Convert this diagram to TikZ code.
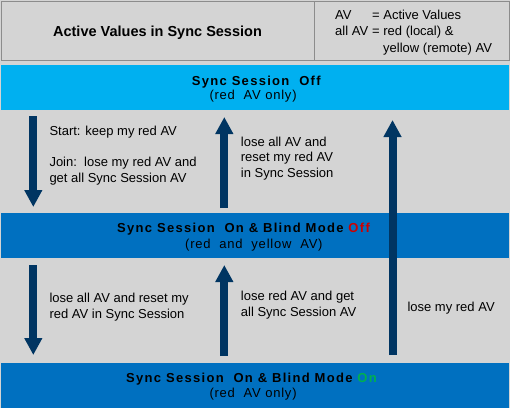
\documentclass[tikz,border=0pt]{standalone}
\usepackage{fontspec}
\setmainfont{Liberation Sans}
\newfontfamily\titlefont[LetterSpace=10]{Liberation Sans}
\newfontfamily\subfont[LetterSpace=6]{Liberation Sans}
\usetikzlibrary{arrows.meta}
\definecolor{bgc}{HTML}{D4D4D4}
\definecolor{hdrline}{HTML}{8C8C8C}
\definecolor{lightband}{HTML}{00B0F0}
\definecolor{darkband}{HTML}{0070C0}
\definecolor{navy}{HTML}{003562}
\definecolor{offred}{HTML}{CC0000}
\definecolor{ongreen}{HTML}{00B050}
\begin{document}
\begin{tikzpicture}[x=1pt,y=-1pt,
  hdrbox/.style={draw=hdrline, line width=1pt, fill=bgc, anchor=north west, inner sep=0pt, outer sep=0pt},
  band/.style={anchor=north west, inner sep=0pt, outer sep=0pt, minimum width=508pt},
  body/.style={anchor=base west, inner sep=0pt, font=\fontsize{13}{16}\selectfont},
  bandtitle/.style={anchor=base west, inner sep=0pt, font=\titlefont\fontsize{13}{16}\selectfont\bfseries},
  bandsub/.style={anchor=base west, inner sep=0pt, font=\subfont\fontsize{13}{16}\selectfont},
  bigarrow/.style={draw=navy, line width=8pt, -{Triangle[width=17pt,length=17pt]}}
]
\useasboundingbox (0,0) rectangle (510,408);
\fill[bgc] (0,0) rectangle (510,408);
% header
\node[hdrbox, minimum width=313pt, minimum height=59.5pt] (hdrtitle) at (1,1) {};
\node[hdrbox, minimum width=195pt, minimum height=59.5pt] (hdrlegend) at (314,1) {};
\node[anchor=base, inner sep=0pt, font=\bfseries\fontsize{14.5}{16}\selectfont] (title) at (157.5,36.7) {Active Values in Sync Session};
\node[body] (lg1a) at (335,19) {AV};
\node[body] (lg1b) at (372,19) {= Active Values};
\node[body] (lg2a) at (335,35) {all AV};
\node[body] (lg2b) at (372,35) {= red (local) \&};
\node[body] (lg3) at (383,52) {yellow (remote) AV};
% bands
\node[band, fill=lightband, minimum height=44.7pt] (off) at (1,65) {};
\node[band, fill=darkband, minimum height=45.3pt] (blindoff) at (1,213) {};
\node[band, fill=darkband, minimum height=45pt] (blindon) at (1,363) {};
\node[bandtitle] (offt) at (191.7,85) {Sync Session\ \ Off};
\node[bandsub] (offs) at (209.3,99.3) {(red\ \ AV only)};
\node[bandtitle] (bofft) at (117,232.7) {Sync Session\ \ On \& Blind Mode \textcolor{offred}{Off}};
\node[bandsub] (boffs) at (185,248.3) {(red\ \ and\ \ yellow\ \ AV)};
\node[bandtitle] (bont) at (126,382) {Sync Session\ \ On \& Blind Mode \textcolor{ongreen}{On}};
\node[bandsub] (bons) at (209.3,397.7) {(red\ \ AV only)};
% arrows
\coordinate (a1s) at (33.3,116);
\coordinate (a1e) at (33.3,207);
\coordinate (a2s) at (224.3,208);
\coordinate (a2e) at (224.3,117);
\coordinate (a3s) at (392.5,355);
\coordinate (a3e) at (392.5,120);
\coordinate (a4s) at (33.3,265);
\coordinate (a4e) at (33.3,355);
\coordinate (a5s) at (224.3,356);
\coordinate (a5e) at (224.3,265);
\draw[bigarrow] (a1s) -- (a1e);
\draw[bigarrow] (a2s) -- (a2e);
\draw[bigarrow] (a3s) -- (a3e);
\draw[bigarrow] (a4s) -- (a4e);
\draw[bigarrow] (a5s) -- (a5e);
% labels
\node[body] (t1) at (49.3,135) {Start: keep my red AV};
\node[body] (t2) at (49.3,166.7) {Join:\ \ lose my red AV and};
\node[body] (t3) at (49.3,182.7) {get all Sync Session AV};
\node[body] (t4) at (240.7,146) {lose all AV and};
\node[body] (t5) at (240.7,161.7) {reset my red AV};
\node[body] (t6) at (240.7,177.7) {in Sync Session};
\node[body] (t7) at (49.3,302.7) {lose all AV and reset my};
\node[body] (t8) at (49.3,318.3) {red AV in Sync Session};
\node[body] (t9) at (240.7,300.7) {lose red AV and get};
\node[body] (t10) at (240.7,316.7) {all Sync Session AV};
\node[body] (t11) at (407.3,311) {lose my red AV};
\end{tikzpicture}
\end{document}
